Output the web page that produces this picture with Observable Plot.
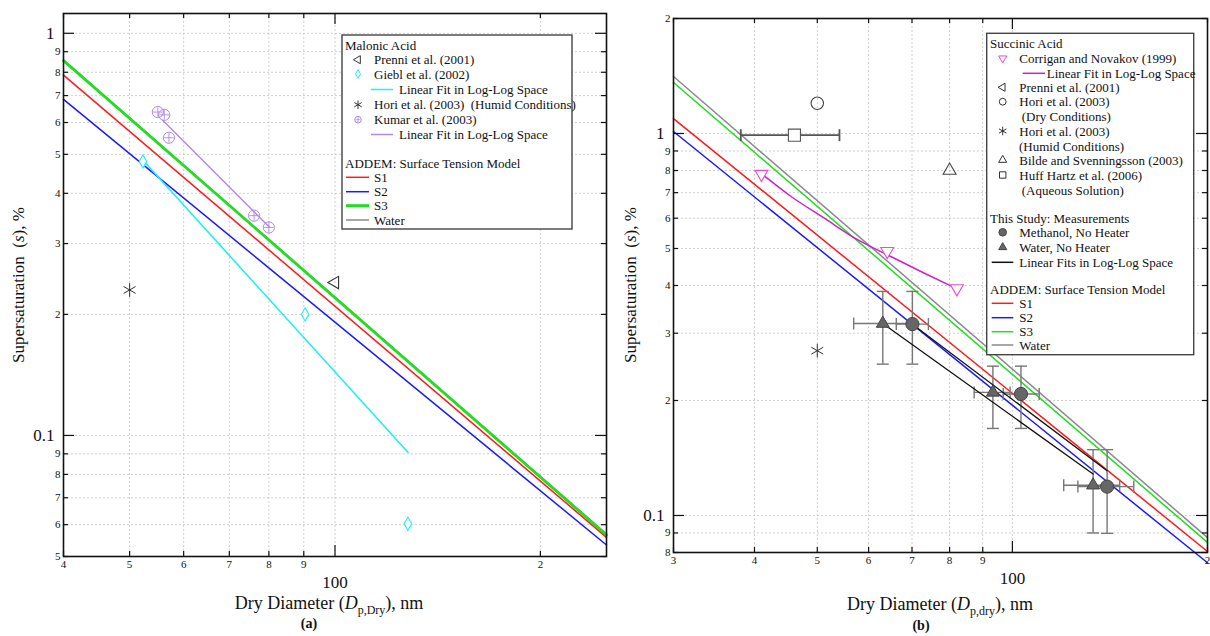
<!DOCTYPE html>
<html><head><meta charset="utf-8">
<script src="https://cdn.jsdelivr.net/npm/d3@7"></script>
<script src="https://cdn.jsdelivr.net/npm/@observablehq/plot@0.6"></script>
<style>
body{margin:0;background:#fff;}
#wrap{position:relative;width:1210px;height:636px;overflow:hidden;background:#fff}
#wrap svg{position:absolute;top:0}
</style></head><body><div id="wrap"></div>
<script>
// ================= DATA: panel (a) Malonic Acid =================
const aModelX = [40, 250];
const aS1 = [0.787, 0.0558];
const aS2 = [0.685, 0.0534];
const aS3 = [0.855, 0.0566];
const aWater = [0.858, 0.0568];
const aPrenniX = [100], aPrenniY = [0.24];
const aGieblX = [52.3, 90.4, 127.9], aGieblY = [0.48, 0.20, 0.0603];
const aGieblFitX = [52.8, 127.9], aGieblFitY = [0.475, 0.0908];
const aHoriX = [50], aHoriY = [0.23];
const aKumarX = [55.0, 56.2, 57.1, 76.1, 80.0];
const aKumarY = [0.637, 0.627, 0.55, 0.352, 0.329];
const aKumarFitX = [55.9, 80.1], aKumarFitY = [0.608, 0.330];

const aXMinor = [50, 60, 70, 80, 90, 200];
const aXMinorLabels = ["5", "6", "7", "8", "9", "2"];
const aXEdge = [40], aXEdgeLabels = ["4"];
const aXMajor = [100], aXMajorLabels = ["100"];
const aYMinor = [0.05, 0.06, 0.07, 0.08, 0.09, 0.2, 0.3, 0.4, 0.5, 0.6, 0.7, 0.8, 0.9];
const aYMinorLabels = ["5", "6", "7", "8", "9", "2", "3", "4", "5", "6", "7", "8", "9"];
const aYMajor = [0.1, 1], aYMajorLabels = ["0.1", "1"];

// ================= DATA: panel (b) Succinic Acid =================
const bModelX = [30, 200];
const bS1 = [1.094, 0.0805];
const bS2 = [1.012, 0.0752];
const bS3 = [1.36, 0.085];
const bWater = [1.41, 0.0875];
const bCorriganX = [41.0, 64.1, 82.1], bCorriganY = [0.783, 0.492, 0.393];
const bCorriganFitX = [41.5, 45.5, 51.2, 57.6, 64.8, 72.9, 81.1];
const bCorriganFitY = [0.772, 0.685, 0.601, 0.528, 0.477, 0.432, 0.396];
const bHoriDryX = [50], bHoriDryY = [1.2];
const bHoriHumidX = [50], bHoriHumidY = [0.27];
const bBildeX = [80], bBildeY = [0.8];
const bHuffX = [46.1], bHuffY = [0.99], bHuffXLo = [38.1], bHuffXHi = [54.1];
const bMethX = [70.1, 103.1, 140], bMethY = [0.317, 0.208, 0.119];
const bMethYLo = [0.249, 0.169, 0.0898], bMethYHi = [0.386, 0.246, 0.1487];
const bMethXLo = [66.2, 96.8, 126.2], bMethXHi = [74.2, 110, 153.9];
const bWatX = [63.1, 93.3, 133.2], bWatY = [0.318, 0.21, 0.12];
const bWatYLo = [0.249, 0.169, 0.09], bWatYHi = [0.386, 0.246, 0.1487];
const bWatXLo = [56.9, 87.3, 120], bWatXHi = [70.1, 99.2, 146.4];
const bMethFitX = [70.1, 140], bMethFitY = [0.3166, 0.131];
const bWatFitX = [63.1, 133.2], bWatFitY = [0.318, 0.1284];

const bXMinor = [40, 50, 60, 70, 80, 90];
const bXMinorLabels = ["4", "5", "6", "7", "8", "9"];
const bXEdge = [30, 200], bXEdgeLabels = ["3", "2"];
const bXMajor = [100], bXMajorLabels = ["100"];
const bYMinor = [0.08, 0.09, 0.2, 0.3, 0.4, 0.5, 0.6, 0.7, 0.8, 0.9, 2];
const bYMinorLabels = ["8", "9", "2", "3", "4", "5", "6", "7", "8", "9", "2"];
const bYMajor = [0.1, 1], bYMajorLabels = ["0.1", "1"];

// ================= helpers =================
const FONT = "Liberation Serif";
const C = {red: "#ff1a1a", blue: "#1a1aff", green: "#22dd22", water: "#8a8a8a",
  cyan: "#22eef0", purple: "#b088e8", magenta: "#cc22cc", pink: "#e64fc8",
  dark: "#666", err: "#777"};
const zip = (xs, ys) => xs.map((x, i) => ({x, y: ys[i]}));
const hCap = {draw(ctx, size) { const w = Math.sqrt(size / Math.PI); ctx.moveTo(-w, 0); ctx.lineTo(w, 0); }};
const vCap = {draw(ctx, size) { const w = Math.sqrt(size / Math.PI); ctx.moveTo(0, -w); ctx.lineTo(0, w); }};

function axisMarks(o) {
  const grid = {stroke: "#c4c4c4", strokeOpacity: 1, strokeWidth: 0.8, strokeDasharray: "2,2"};
  return [
    Plot.gridX([...o.xMinor, ...o.xMajor].filter(v => v > o.xDomain[0] && v < o.xDomain[1]), grid),
    Plot.gridY([...o.yMinor, ...o.yMajor].filter(v => v > o.yDomain[0] && v < o.yDomain[1]), grid)
  ];
}
function frameMarks(o, iw, ih) {
  const m = [];
  const xs = [...o.xMinor, ...o.xEdge], ys = o.yMinor;
  const tk = {stroke: "#111", strokeWidth: 1.2};
  m.push(Plot.tickX(xs, {x: d => d, insetTop: ih - 5, ...tk}));
  m.push(Plot.tickX(xs, {x: d => d, insetBottom: ih - 5, ...tk}));
  m.push(Plot.tickX(o.xMajor, {x: d => d, insetTop: ih - 11, ...tk}));
  m.push(Plot.tickX(o.xMajor, {x: d => d, insetBottom: ih - 11, ...tk}));
  m.push(Plot.tickY(ys, {y: d => d, insetRight: iw - 5, ...tk}));
  m.push(Plot.tickY(ys, {y: d => d, insetLeft: iw - 5, ...tk}));
  m.push(Plot.tickY(o.yMajor, {y: d => d, insetRight: iw - 11, ...tk}));
  m.push(Plot.tickY(o.yMajor, {y: d => d, insetLeft: iw - 11, ...tk}));
  m.push(Plot.frame({stroke: "#111", strokeWidth: 1.6}));
  const small = {fontSize: 11, fill: "#111", fontFamily: FONT};
  const big = {fontSize: 17, fill: "#111", fontFamily: FONT};
  m.push(Plot.text([...o.xMinor, ...o.xEdge], {x: d => d, text: (d, i) => [...o.xMinorLabels, ...o.xEdgeLabels][i], frameAnchor: "bottom", lineAnchor: "top", dy: 4, ...small}));
  m.push(Plot.text(o.xMajor, {x: d => d, text: (d, i) => o.xMajorLabels[i], frameAnchor: "bottom", lineAnchor: "top", dy: 19, ...big}));
  m.push(Plot.text(o.yMinor, {y: d => d, text: (d, i) => o.yMinorLabels[i], frameAnchor: "left", textAnchor: "end", dx: -3, ...small}));
  m.push(Plot.text(o.yMajor, {y: d => d, text: (d, i) => o.yMajorLabels[i], frameAnchor: "left", textAnchor: "end", dx: -9, ...big}));
  return m;
}

function makePanel(o) {
  const W = o.width, H = 636;
  const iw = W - o.ml - o.mr, ih = H - o.mt - o.mb;
  const svg = Plot.plot({
    width: W, height: H,
    marginLeft: o.ml, marginRight: o.mr, marginTop: o.mt, marginBottom: o.mb,
    x: {type: "log", domain: o.xDomain, axis: null},
    y: {type: "log", domain: o.yDomain, axis: null},
    style: {fontFamily: FONT, background: "transparent", overflow: "visible"},
    marks: [...axisMarks(o), ...o.marks, ...frameMarks(o, iw, ih)]
  });
  svg.style.left = o.left + "px";
  return svg;
}

function addTitles(svg, t) {
  const g = d3.select(svg).append("g").attr("font-family", FONT).attr("fill", "#111");
  const yl = g.append("text").attr("transform", `translate(${t.ylx},${t.yly}) rotate(-90)`)
    .attr("text-anchor", "middle").attr("font-size", 17);
  yl.append("tspan").text("Supersaturation  (");
  yl.append("tspan").attr("font-style", "italic").text("s");
  yl.append("tspan").text("), %");
  const xl = g.append("text").attr("x", t.xlx).attr("y", t.xly).attr("text-anchor", "middle").attr("font-size", 18);
  xl.append("tspan").text("Dry Diameter (");
  xl.append("tspan").attr("font-style", "italic").text("D");
  xl.append("tspan").attr("font-size", 12).attr("dy", 5).text(t.sub);
  xl.append("tspan").attr("dy", -5).text("), nm");
  g.append("text").attr("x", t.capx).attr("y", t.capy).attr("text-anchor", "middle")
    .attr("font-size", 14).attr("font-weight", "bold").text(t.cap);
}

function symbolPath(type, r) {
  return d3.symbol().type(type).size(Math.PI * r * r)();
}
function addLegend(svg, box, rows) {
  const g = d3.select(svg).append("g").attr("font-family", FONT).attr("font-size", 13)
    .attr("fill", "#111").attr("text-anchor", "start");
  g.append("rect").attr("x", box.x).attr("y", box.y).attr("width", box.w).attr("height", box.h)
    .attr("fill", "white").attr("stroke", "#444").attr("stroke-width", 1.4);
  for (const r of rows) {
    if (r.line) {
      g.append("line").attr("x1", r.line[0]).attr("x2", r.line[1]).attr("y1", r.y).attr("y2", r.y)
        .attr("stroke", r.color).attr("stroke-width", r.width || 1.5);
    }
    if (r.sym) {
      g.append("path").attr("d", symbolPath(r.sym, r.r || 3.2))
        .attr("transform", `translate(${r.sx},${r.y}) rotate(${r.rot || 0})`)
        .attr("fill", r.fill || "none").attr("stroke", r.stroke || "#333").attr("stroke-width", 1);
      if (r.plus) g.append("path").attr("d", symbolPath(d3.symbolPlus, 1.8))
        .attr("transform", `translate(${r.sx},${r.y})`).attr("fill", "none").attr("stroke", r.stroke).attr("stroke-width", 0.8);
    }
    if (r.text) g.append("text").attr("x", r.tx).attr("y", r.y + 4.5).attr("text-anchor", "start").text(r.text);
  }
}

// ================= panel (a) =================
const aMarks = [
  Plot.line(zip(aModelX, aWater), {x: "x", y: "y", stroke: C.water, strokeWidth: 1.5}),
  Plot.line(zip(aModelX, aS1), {x: "x", y: "y", stroke: C.red, strokeWidth: 1.5}),
  Plot.line(zip(aModelX, aS2), {x: "x", y: "y", stroke: C.blue, strokeWidth: 1.5}),
  Plot.line(zip(aModelX, aS3), {x: "x", y: "y", stroke: C.green, strokeWidth: 2.8}),
  Plot.line(zip(aGieblFitX, aGieblFitY), {x: "x", y: "y", stroke: C.cyan, strokeWidth: 1.6}),
  Plot.line(zip(aKumarFitX, aKumarFitY), {x: "x", y: "y", stroke: C.purple, strokeWidth: 1.4}),
  Plot.dot(zip(aPrenniX, aPrenniY), {x: "x", y: "y", symbol: "triangle", rotate: -90, r: 4.6, stroke: "#333", fill: "none", strokeWidth: 1.1}),
  Plot.dot(zip(aGieblX, aGieblY), {x: "x", y: "y", symbol: "diamond", r: 4, stroke: C.cyan, fill: "white", strokeWidth: 1.1}),
  Plot.dot(zip(aHoriX, aHoriY), {x: "x", y: "y", symbol: "asterisk", r: 6.5, stroke: "#333", strokeWidth: 1}),
  Plot.dot(zip(aKumarX, aKumarY), {x: "x", y: "y", symbol: "circle", r: 5.6, stroke: C.purple, fill: "none", strokeWidth: 1}),
  Plot.dot(zip(aKumarX, aKumarY), {x: "x", y: "y", symbol: "plus", r: 3.2, stroke: C.purple, strokeWidth: 0.9})
];
const svgA = makePanel({
  left: 0, width: 610, ml: 63, mr: 4, mt: 13, mb: 80,
  xDomain: [40, 250], yDomain: [0.05, 1.12],
  xMinor: aXMinor, xMinorLabels: aXMinorLabels, xEdge: aXEdge, xEdgeLabels: aXEdgeLabels,
  xMajor: aXMajor, xMajorLabels: aXMajorLabels,
  yMinor: aYMinor, yMinorLabels: aYMinorLabels, yMajor: aYMajor, yMajorLabels: aYMajorLabels,
  marks: aMarks
});
document.getElementById("wrap").appendChild(svgA);
addTitles(svgA, {ylx: 24, yly: 285, xlx: 329, xly: 609, sub: "p,Dry", cap: "(a)", capx: 309, capy: 628});
addLegend(svgA, {x: 342, y: 35, w: 230, h: 194}, [
  {text: "Malonic Acid", tx: 345, y: 45},
  {sym: d3.symbolTriangle, rot: -90, sx: 358, y: 59.7, text: "Prenni et al. (2001)", tx: 374, r: 3},
  {sym: d3.symbolDiamond, sx: 358, y: 74, stroke: C.cyan, text: "Giebl et al. (2002)", tx: 374, r: 2.6},
  {line: [371, 393], color: C.cyan, y: 89.5, text: "Linear Fit in Log-Log Space", tx: 399},
  {sym: d3.symbolAsterisk, sx: 358, y: 104.7, text: "Hori et al. (2003)  (Humid Conditions)", tx: 374, r: 4},
  {sym: d3.symbolCircle, plus: true, sx: 358, y: 119.7, stroke: C.purple, text: "Kumar et al. (2003)", tx: 374, r: 3.3},
  {line: [371, 393], color: C.purple, y: 134.5, text: "Linear Fit in Log-Log Space", tx: 399},
  {text: "ADDEM: Surface Tension Model", tx: 345, y: 163},
  {line: [346, 369], color: C.red, y: 177.3, text: "S1", tx: 374},
  {line: [346, 369], color: C.blue, y: 191.7, text: "S2", tx: 374},
  {line: [346, 369], color: C.green, width: 3, y: 205.7, text: "S3", tx: 374},
  {line: [346, 369], color: C.water, y: 220, text: "Water", tx: 374}
]);

// ================= panel (b) =================
const meth = bMethX.map((x, i) => ({x, y: bMethY[i], ylo: bMethYLo[i], yhi: bMethYHi[i], xlo: bMethXLo[i], xhi: bMethXHi[i]}));
const wat = bWatX.map((x, i) => ({x, y: bWatY[i], ylo: bWatYLo[i], yhi: bWatYHi[i], xlo: bWatXLo[i], xhi: bWatXHi[i]}));
const huff = bHuffX.map((x, i) => ({x, y: bHuffY[i], xlo: bHuffXLo[i], xhi: bHuffXHi[i]}));
function errMarks(data, color, w) {
  const v = data.filter(d => d.ylo != null);
  return [
    Plot.ruleX(v, {x: "x", y1: "ylo", y2: "yhi", stroke: color, strokeWidth: w}),
    Plot.ruleY(data, {y: "y", x1: "xlo", x2: "xhi", stroke: color, strokeWidth: w}),
    Plot.dot(v, {x: "x", y: "ylo", symbol: hCap, r: 6, stroke: color, fill: "none", strokeWidth: w}),
    Plot.dot(v, {x: "x", y: "yhi", symbol: hCap, r: 6, stroke: color, fill: "none", strokeWidth: w}),
    Plot.dot(data, {x: "xlo", y: "y", symbol: vCap, r: 6, stroke: color, fill: "none", strokeWidth: w}),
    Plot.dot(data, {x: "xhi", y: "y", symbol: vCap, r: 6, stroke: color, fill: "none", strokeWidth: w})
  ];
}
const bMarks = [
  Plot.line(zip(bModelX, bWater), {x: "x", y: "y", stroke: C.water, strokeWidth: 1.5}),
  Plot.line(zip(bModelX, bS3), {x: "x", y: "y", stroke: C.green, strokeWidth: 1.5}),
  Plot.line(zip(bModelX, bS1), {x: "x", y: "y", stroke: C.red, strokeWidth: 1.5}),
  Plot.line(zip(bModelX, bS2), {x: "x", y: "y", stroke: C.blue, strokeWidth: 1.5}),
  ...errMarks(huff, "#555", 1.8),
  ...errMarks(wat, C.err, 1.4),
  ...errMarks(meth, C.err, 1.4),
  Plot.line(zip(bMethFitX, bMethFitY), {x: "x", y: "y", stroke: "#111", strokeWidth: 1.3}),
  Plot.line(zip(bWatFitX, bWatFitY), {x: "x", y: "y", stroke: "#111", strokeWidth: 1.3}),
  Plot.line(zip(bCorriganFitX, bCorriganFitY), {x: "x", y: "y", stroke: C.magenta, strokeWidth: 1.5, curve: "monotone-x"}),
  Plot.dot(zip(bCorriganX, bCorriganY), {x: "x", y: "y", symbol: "triangle", rotate: 180, r: 4.8, stroke: C.pink, fill: "white", strokeWidth: 1.1}),
  Plot.dot(zip(bHoriDryX, bHoriDryY), {x: "x", y: "y", symbol: "circle", r: 6.2, stroke: "#444", fill: "none", strokeWidth: 1.1}),
  Plot.dot(zip(bHoriHumidX, bHoriHumidY), {x: "x", y: "y", symbol: "asterisk", r: 6.5, stroke: "#333", strokeWidth: 1}),
  Plot.dot(zip(bBildeX, bBildeY), {x: "x", y: "y", symbol: "triangle", r: 4.8, stroke: "#444", fill: "none", strokeWidth: 1.1}),
  Plot.dot(huff, {x: "x", y: "y", symbol: "square", r: 6.8, stroke: "#555", fill: "white", strokeWidth: 1.1}),
  Plot.dot(wat, {x: "x", y: "y", symbol: "triangle", r: 4.8, stroke: "#444", fill: C.dark, strokeWidth: 1}),
  Plot.dot(meth, {x: "x", y: "y", symbol: "circle", r: 6.6, stroke: "#444", fill: C.dark, strokeWidth: 1})
];
const svgB = makePanel({
  left: 610, width: 600, ml: 63, mr: 3, mt: 18, mb: 84,
  xDomain: [30, 200], yDomain: [0.08, 2],
  xMinor: bXMinor, xMinorLabels: bXMinorLabels, xEdge: bXEdge, xEdgeLabels: bXEdgeLabels,
  xMajor: bXMajor, xMajorLabels: bXMajorLabels,
  yMinor: bYMinor, yMinorLabels: bYMinorLabels, yMajor: bYMajor, yMajorLabels: bYMajorLabels,
  marks: bMarks
});
document.getElementById("wrap").appendChild(svgB);
addTitles(svgB, {ylx: 26, yly: 285, xlx: 330, xly: 610, sub: "p,dry", cap: "(b)", capx: 311, capy: 630});
const sx = 392.7, tx = 409.3;
addLegend(svgB, {x: 376.7, y: 33.3, w: 207, h: 321.4}, [
  {text: "Succinic Acid", tx: 380, y: 43.3},
  {sym: d3.symbolTriangle, rot: 180, sx, y: 58.3, stroke: C.pink, text: "Corrigan and Novakov (1999)", tx, r: 3},
  {line: [412.7, 435], color: C.magenta, y: 73.3, text: "Linear Fit in Log-Log Space", tx: 436.7},
  {sym: d3.symbolTriangle, rot: -90, sx, y: 87.3, text: "Prenni et al. (2001)", tx, r: 3},
  {sym: d3.symbolCircle, sx, y: 101.7, text: "Hori et al. (2003)", tx, r: 3.4},
  {text: "(Dry Conditions)", tx: 411.7, y: 116.7},
  {sym: d3.symbolAsterisk, sx, y: 131, text: "Hori et al. (2003)", tx, r: 4},
  {text: "(Humid Conditions)", tx: 409, y: 146},
  {sym: d3.symbolTriangle, sx, y: 160, text: "Bilde and Svenningsson (2003)", tx, r: 3},
  {sym: d3.symbolSquare, sx, y: 175, text: "Huff Hartz et al. (2006)", tx, r: 3.6},
  {text: "(Aqueous Solution)", tx: 411.7, y: 190.7},
  {text: "This Study: Measurements", tx: 380, y: 218.3},
  {sym: d3.symbolCircle, sx, y: 232.3, fill: C.dark, stroke: "#444", text: "Methanol, No Heater", tx, r: 3.8},
  {sym: d3.symbolTriangle, sx, y: 247.3, fill: C.dark, stroke: "#444", text: "Water, No Heater", tx, r: 3},
  {line: [381.7, 403.3], color: "#111", y: 262.3, text: "Linear Fits in Log-Log Space", tx},
  {text: "ADDEM: Surface Tension Model", tx: 380, y: 289.3},
  {line: [381.7, 403.3], color: C.red, y: 303.3, text: "S1", tx},
  {line: [381.7, 403.3], color: C.blue, y: 317.7, text: "S2", tx},
  {line: [381.7, 403.3], color: C.green, y: 331.7, text: "S3", tx},
  {line: [381.7, 403.3], color: C.water, y: 345, text: "Water", tx}
]);
</script></body></html>
